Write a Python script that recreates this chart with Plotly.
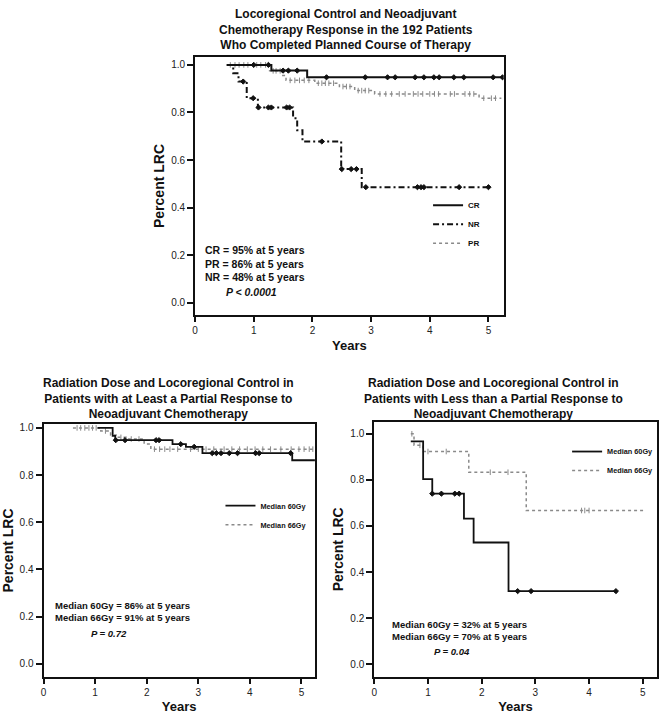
import numpy as np
import plotly.graph_objects as go

# ---------------- DATA ----------------
# Top: response groups (step times in years, LRC fraction after each step)
cr_time = [0.54, 1.30, 1.91, 5.25]
cr_surv = [1.0, 0.976, 0.948, 0.948]
cr_censor = [1.0, 1.25, 1.50, 1.59, 1.74, 2.24, 2.90, 3.28, 3.41, 3.75, 3.90, 4.07, 4.16, 4.41, 4.58, 5.08, 5.24]

nr_time = [0.54, 0.65, 0.74, 0.88, 1.07, 1.67, 1.74, 1.83, 2.49, 2.84, 5.0]
nr_surv = [1.0, 0.965, 0.93, 0.86, 0.821, 0.776, 0.725, 0.678, 0.562, 0.486, 0.486]
nr_censor = [0.82, 0.99, 1.08, 1.25, 1.30, 1.56, 1.61, 2.16, 2.50, 2.66, 2.75, 2.91, 3.79, 3.85, 3.90, 4.50, 5.0]

pr_time = [0.54, 1.27, 1.48, 1.55, 2.04, 2.46, 2.72, 3.06, 4.84, 5.22]
pr_surv = [1.0, 0.975, 0.955, 0.935, 0.923, 0.909, 0.892, 0.878, 0.86, 0.86]
pr_censor = [0.60, 0.68, 0.75, 0.83, 0.90, 1.05, 1.12, 1.20, 1.33, 1.38, 1.45, 1.62, 1.70, 1.78,
             1.86, 1.94, 2.10, 2.16, 2.22, 2.28, 2.36, 2.52, 2.58, 2.64, 2.78, 2.84, 2.90, 2.96,
             3.15, 3.25, 3.35, 3.48, 3.58, 3.72, 3.80, 3.88, 4.00, 4.08, 4.15, 4.35, 4.42, 4.60,
             4.68, 4.75, 4.92, 5.05, 5.12]

# Bottom-left: at least partial response, by dose
pl60_time = [1.05, 1.34, 1.39, 2.50, 2.76, 3.08, 4.82, 5.27]
pl60_surv = [1.0, 0.966, 0.948, 0.931, 0.92, 0.893, 0.863, 0.863]
pl60_censor = [1.40, 1.58, 2.18, 2.24, 2.66, 2.92, 3.27, 3.35, 3.44, 3.60, 3.76, 4.11, 4.18, 4.79]

pl66_time = [0.57, 1.11, 1.30, 1.45, 1.60, 1.95, 2.08, 5.27]
pl66_surv = [1.0, 0.987, 0.97, 0.96, 0.953, 0.932, 0.91, 0.91]
pl66_censor = [0.65, 0.72, 0.80, 0.88, 0.95, 1.02, 1.20, 1.50, 1.70, 1.85, 2.15, 2.25, 2.35, 2.45,
               2.60, 2.85, 3.00, 3.15, 3.30, 3.50, 3.65, 3.80, 3.95, 4.10, 4.25, 4.40, 4.60, 4.80,
               4.95, 5.05, 5.15, 5.22]

# Bottom-right: less than partial response, by dose
ls60_time = [0.68, 0.91, 1.08, 1.67, 1.85, 2.50, 4.50]
ls60_surv = [0.967, 0.803, 0.74, 0.632, 0.528, 0.317, 0.317]
ls60_censor = [1.08, 1.25, 1.50, 1.58, 2.67, 2.92, 4.50]

ls66_time = [0.68, 0.74, 0.91, 1.76, 2.83, 5.02]
ls66_surv = [1.0, 0.95, 0.923, 0.833, 0.667, 0.667]
ls66_censor = [0.70, 0.85, 1.00, 1.34, 2.16, 2.49, 3.86, 3.92, 4.00]

y_ticks = [0.0, 0.2, 0.4, 0.6, 0.8, 1.0]
x_ticks = [0, 1, 2, 3, 4, 5]

top_title = "Locoregional Control and Neoadjuvant<br>Chemotherapy Response in the 192 Patients<br>Who Completed Planned Course of Therapy"
bl_title = "Radiation Dose and Locoregional Control in<br>Patients with at Least a Partial Response to<br>Neoadjuvant Chemotherapy"
br_title = "Radiation Dose and Locoregional Control in<br>Patients with Less than a Partial Response to<br>Neoadjuvant Chemotherapy"

top_note = "CR = 95% at 5 years<br>PR = 86% at 5 years<br>NR = 48% at 5 years"
top_p = "<i>P &lt; 0.0001</i>"
bl_note = "Median 60Gy = 86% at 5 years<br>Median 66Gy = 91% at 5 years"
bl_p = "<i>P = 0.72</i>"
br_note = "Median 60Gy = 32% at 5 years<br>Median 66Gy = 70% at 5 years"
br_p = "<i>P = 0.04</i>"

# ---------------- FIGURE ----------------
BLACK = "#111111"
GRAY = "#8a8a8a"
fig = go.Figure()


def step_at(times, surv, t):
    idx = np.searchsorted(np.array(times), np.array(t), side="right") - 1
    idx = np.clip(idx, 0, len(surv) - 1)
    return list(np.array(surv)[idx])


def add_curve(times, surv, censor, name, color, dash, width, xa, ya, legend, rank, msym, msize):
    fig.add_trace(go.Scatter(x=times, y=surv, mode="lines", line_shape="hv", name=name,
                             line=dict(color=color, dash=dash, width=width),
                             xaxis=xa, yaxis=ya, legend=legend, legendrank=rank, hoverinfo="skip"))
    fig.add_trace(go.Scatter(x=censor, y=step_at(times, surv, censor), mode="markers",
                             marker=dict(symbol=msym, size=msize, color=color,
                                         line=dict(color=color, width=1)),
                             showlegend=False, xaxis=xa, yaxis=ya, hoverinfo="skip"))


# top
add_curve(pr_time, pr_surv, pr_censor, "PR", GRAY, "dot", 1.5, "x", "y", "legend", 3, "line-ns", 4)
add_curve(cr_time, cr_surv, cr_censor, "CR", BLACK, "solid", 2, "x", "y", "legend", 1, "diamond", 4)
add_curve(nr_time, nr_surv, nr_censor, "NR", BLACK, "6px,3px,2px,3px", 2, "x", "y", "legend", 2, "diamond", 4)
# bottom-left
add_curve(pl66_time, pl66_surv, pl66_censor, "Median 66Gy", GRAY, "dot", 1.5, "x2", "y2", "legend2", 2, "line-ns", 4)
add_curve(pl60_time, pl60_surv, pl60_censor, "Median 60Gy", BLACK, "solid", 1.8, "x2", "y2", "legend2", 1, "diamond", 4)
# bottom-right
add_curve(ls66_time, ls66_surv, ls66_censor, "Median 66Gy", GRAY, "dot", 1.5, "x3", "y3", "legend3", 2, "line-ns", 4)
add_curve(ls60_time, ls60_surv, ls60_censor, "Median 60Gy", BLACK, "solid", 1.8, "x3", "y3", "legend3", 1, "diamond", 4)

tickfont = dict(family="Liberation Sans, Arial", size=10, color="#222")
titlefont = dict(family="Liberation Sans, Arial", size=14, color="#111", weight="bold")


def xax(domain, anchor):
    return dict(domain=domain, anchor=anchor, range=[0, 5.26], tickvals=x_ticks,
                ticks="outside", ticklen=5, tickwidth=1.5, tickcolor="#111",
                showline=True, linecolor="#111", linewidth=2, mirror=True,
                showgrid=False, zeroline=False, tickfont=tickfont,
                title=dict(text="Years", font=dict(family="Liberation Sans, Arial", size=13,
                                                   color="#111", weight="bold"), standoff=6))


def yax(domain, anchor, rng):
    return dict(domain=domain, anchor=anchor, range=rng, tickvals=y_ticks, tickformat=".1f",
                ticks="outside", ticklen=6, tickwidth=1.5, tickcolor="#111",
                showline=True, linecolor="#111", linewidth=2, mirror=True,
                showgrid=False, zeroline=False, tickfont=tickfont,
                title=dict(text="Percent LRC", font=titlefont, standoff=3))


fig.update_layout(
    width=662, height=714, margin=dict(l=0, r=0, t=0, b=0),
    paper_bgcolor="white", plot_bgcolor="white",
    xaxis=xax([0.2915, 0.7598], "y"),
    yaxis=yax([0.5602, 0.9230], "x", [-0.052, 1.034]),
    xaxis2=xax([0.0615, 0.4733], "y2"),
    yaxis2=yax([0.0522, 0.4071], "x2", [-0.055, 1.016]),
    xaxis3=xax([0.5634, 0.9920], "y3"),
    yaxis3=yax([0.0522, 0.4104], "x3", [-0.055, 1.052]),
)

legfont = dict(family="Liberation Sans, Arial", size=8, color="#111", weight="bold")
legfont_s = dict(family="Liberation Sans, Arial", size=7.3, color="#111", weight="bold")
fig.update_layout(
    legend=dict(x=0.645, y=0.735, xanchor="left", yanchor="top", bgcolor="rgba(0,0,0,0)",
                font=legfont, itemwidth=30),
    legend2=dict(x=0.330, y=0.313, xanchor="left", yanchor="top", bgcolor="rgba(0,0,0,0)",
                 font=legfont_s, itemwidth=30),
    legend3=dict(x=0.856, y=0.389, xanchor="left", yanchor="top", bgcolor="rgba(0,0,0,0)",
                 font=legfont_s, itemwidth=30),
)

tfont = dict(family="Liberation Sans, Arial", size=12, color="#111", weight="bold")
nfont = dict(family="Liberation Sans, Arial", size=10.5, color="#111", weight="bold")
sfont = dict(family="Liberation Sans, Arial", size=9.5, color="#111", weight="bold")


def ann(text, x, y, font, xanchor="center", align="center"):
    fig.add_annotation(text=text, x=x, y=y, xref="paper", yref="paper", xanchor=xanchor,
                       yanchor="top", showarrow=False, font=font, align=align)


ann(top_title, 345 / 662, 1 - 3 / 714, tfont)
ann(bl_title, 166 / 662, 1 - 373 / 714, tfont)
ann(br_title, 493 / 662, 1 - 373 / 714, tfont)

ann(top_note, 201 / 662, 1 - 241 / 714, nfont, "left", "left")
ann(top_p, 222 / 662, 1 - 283 / 714, nfont, "left", "left")
ann(bl_note, 50 / 662, 1 - 598 / 714, sfont, "left", "left")
ann(bl_p, 86 / 662, 1 - 626 / 714, sfont, "left", "left")
ann(br_note, 389 / 662, 1 - 617 / 714, sfont, "left", "left")
ann(br_p, 431 / 662, 1 - 644 / 714, sfont, "left", "left")

fig.write_html("out.html", config={"displayModeBar": False},
               post_script="document.body.style.margin='0';document.body.style.overflow='hidden';")
